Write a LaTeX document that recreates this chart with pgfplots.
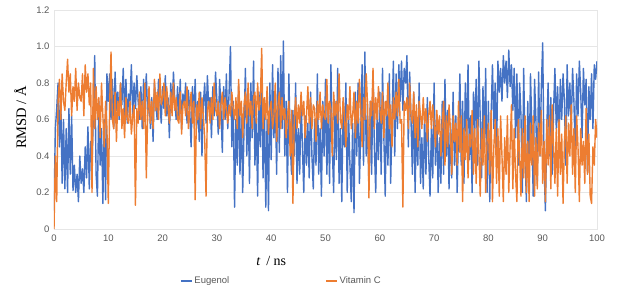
\documentclass[border=0pt]{standalone}
\usepackage{pgfplots}
\pgfplotsset{compat=1.18}
\usepackage{pgfplotstable}
\usepackage{fontspec}
\setmainfont{Liberation Serif}
\newfontfamily\arial{Liberation Sans}
\definecolor{eug}{HTML}{4472C4}
\definecolor{vitc}{HTML}{ED7D31}
\definecolor{tick}{HTML}{595959}
\definecolor{gridc}{HTML}{E6E6E6}
\pgfplotstableread[row sep=\\]{
t e v\\
0 0.10 0.00\\ 0.25 0.55 0.40\\ 0.5 0.66 0.15\\ 0.75 0.80 0.70\\
1 0.45 0.82\\ 1.25 0.72 0.60\\ 1.5 0.25 0.85\\ 1.75 0.60 0.70\\
2 0.22 0.65\\ 2.25 0.55 0.80\\ 2.5 0.20 0.93\\ 2.75 0.66 0.75\\
3 0.30 0.85\\ 3.25 0.62 0.62\\ 3.5 0.21 0.78\\ 3.75 0.35 0.70\\
4 0.20 0.88\\ 4.25 0.30 0.65\\ 4.5 0.15 0.80\\ 4.75 0.40 0.72\\
5 0.25 0.70\\ 5.25 0.33 0.85\\ 5.5 0.20 0.62\\ 5.75 0.45 0.90\\
6 0.28 0.75\\ 6.25 0.56 0.85\\ 6.5 0.22 0.68\\ 6.75 0.48 0.80\\
7 0.35 0.20\\ 7.25 0.62 0.88\\ 7.5 0.95 0.55\\ 7.75 0.30 0.78\\
8 0.18 0.60\\ 8.25 0.70 0.72\\ 8.5 0.35 0.50\\ 8.75 0.55 0.80\\
9 0.14 0.62\\ 9.25 0.60 0.45\\ 9.5 0.16 0.70\\ 9.75 0.85 0.55\\
10 0.70 0.14\\ 10.25 0.85 0.68\\ 10.5 0.60 0.97\\ 10.75 0.82 0.60\\
11 0.55 0.55\\ 11.25 0.86 0.75\\ 11.5 0.65 0.48\\ 11.75 0.75 0.70\\
12 0.60 0.62\\ 12.25 0.80 0.80\\ 12.5 0.68 0.55\\ 12.75 0.88 0.66\\
13 0.62 0.50\\ 13.25 0.82 0.72\\ 13.5 0.58 0.60\\ 13.75 0.74 0.58\\
14 0.70 0.70\\ 14.25 0.90 0.52\\ 14.5 0.62 0.62\\ 14.75 0.80 0.68\\
15 0.66 0.13\\ 15.25 0.84 0.66\\ 15.5 0.70 0.58\\ 15.75 0.60 0.75\\
16 0.78 0.60\\ 16.25 0.55 0.70\\ 16.5 0.82 0.55\\ 16.75 0.68 0.80\\
17 0.85 0.28\\ 17.25 0.62 0.62\\ 17.5 0.75 0.78\\ 17.75 0.55 0.58\\
18 0.72 0.70\\ 18.25 0.48 0.55\\ 18.5 0.80 0.82\\ 18.75 0.68 0.65\\
19 0.60 0.75\\ 19.25 0.82 0.60\\ 19.5 0.70 0.85\\ 19.75 0.58 0.68\\
20 0.78 0.72\\ 20.25 0.66 0.80\\ 20.5 0.84 0.62\\ 20.75 0.62 0.78\\
21 0.72 0.68\\ 21.25 0.50 0.58\\ 21.5 0.80 0.75\\ 21.75 0.65 0.62\\
22 0.86 0.80\\ 22.25 0.70 0.65\\ 22.5 0.60 0.72\\ 22.75 0.78 0.60\\
23 0.62 0.58\\ 23.25 0.82 0.75\\ 23.5 0.55 0.52\\ 23.75 0.74 0.68\\
24 0.68 0.70\\ 24.25 0.80 0.62\\ 24.5 0.58 0.78\\ 24.75 0.76 0.55\\
25 0.65 0.65\\ 25.25 0.45 0.75\\ 25.5 0.78 0.58\\ 25.75 0.60 0.70\\
26 0.82 0.16\\ 26.25 0.55 0.68\\ 26.5 0.70 0.60\\ 26.75 0.48 0.75\\
27 0.75 0.55\\ 27.25 0.40 0.72\\ 27.5 0.68 0.62\\ 27.75 0.80 0.50\\
28 0.58 0.18\\ 28.25 0.84 0.65\\ 28.5 0.66 0.70\\ 28.75 0.72 0.58\\
29 0.50 0.72\\ 29.25 0.78 0.60\\ 29.5 0.62 0.80\\ 29.75 0.86 0.66\\
30 0.70 0.62\\ 30.25 0.52 0.70\\ 30.5 0.82 0.55\\ 30.75 0.66 0.68\\
31 0.42 0.75\\ 31.25 0.78 0.60\\ 31.5 0.60 0.72\\ 31.75 0.85 0.65\\
32 0.55 0.58\\ 32.25 0.75 0.68\\ 32.5 1.00 0.62\\ 32.75 0.45 0.75\\
33 0.70 0.66\\ 33.25 0.12 0.60\\ 33.5 0.60 0.72\\ 33.75 0.35 0.55\\
34 0.78 0.82\\ 34.25 0.30 0.62\\ 34.5 0.65 0.70\\ 34.75 0.20 0.50\\
35 0.55 0.68\\ 35.25 0.88 0.75\\ 35.5 0.40 0.58\\ 35.75 0.70 0.80\\
36 0.25 0.62\\ 36.25 0.80 0.70\\ 36.5 0.50 0.55\\ 36.75 0.92 0.72\\
37 0.35 0.75\\ 37.25 0.62 0.58\\ 37.5 0.18 0.80\\ 37.75 0.75 0.65\\
38 0.45 0.70\\ 38.25 0.85 0.99\\ 38.5 0.28 0.55\\ 38.75 0.70 0.72\\
39 0.12 0.60\\ 39.25 0.60 0.78\\ 39.5 0.10 0.52\\ 39.75 0.80 0.66\\
40 0.38 0.70\\ 40.25 0.90 0.55\\ 40.5 0.50 0.62\\ 40.75 0.75 0.80\\
41 0.30 0.48\\ 41.25 0.88 0.68\\ 41.5 0.42 0.75\\ 41.75 0.95 0.55\\
42 0.55 0.72\\ 42.25 1.03 0.60\\ 42.5 0.40 0.66\\ 42.75 0.70 0.50\\
43 0.20 0.62\\ 43.25 0.85 0.70\\ 43.5 0.48 0.40\\ 43.75 0.30 0.65\\
44 0.65 0.14\\ 44.25 0.40 0.60\\ 44.5 0.80 0.72\\ 44.75 0.25 0.55\\
45 0.55 0.68\\ 45.25 0.30 0.58\\ 45.5 0.72 0.75\\ 45.75 0.45 0.62\\
46 0.20 0.70\\ 46.25 0.62 0.50\\ 46.5 0.35 0.62\\ 46.75 0.58 0.78\\
47 0.28 0.58\\ 47.25 0.75 0.72\\ 47.5 0.40 0.55\\ 47.75 0.22 0.68\\
48 0.60 0.66\\ 48.25 0.35 0.48\\ 48.5 0.85 0.70\\ 48.75 0.30 0.60\\
49 0.55 0.75\\ 49.25 0.18 0.55\\ 49.5 0.70 0.68\\ 49.75 0.40 0.62\\
50 0.82 0.60\\ 50.25 0.30 0.82\\ 50.5 0.65 0.58\\ 50.75 0.25 0.70\\
51 0.90 0.66\\ 51.25 0.45 0.40\\ 51.5 0.20 0.75\\ 51.75 0.70 0.62\\
52 0.38 0.70\\ 52.25 0.88 0.58\\ 52.5 0.25 0.85\\ 52.75 0.55 0.60\\
53 0.15 0.55\\ 53.25 0.70 0.72\\ 53.5 0.45 0.62\\ 53.75 0.80 0.45\\
54 0.20 0.68\\ 54.25 0.62 0.60\\ 54.5 0.35 0.78\\ 54.75 0.15 0.55\\
55 0.58 0.62\\ 55.25 0.09 0.75\\ 55.5 0.75 0.50\\ 55.75 0.40 0.70\\
56 0.80 0.58\\ 56.25 0.25 0.82\\ 56.5 0.55 0.65\\ 56.75 0.90 0.45\\
57 0.35 0.72\\ 57.25 0.97 0.60\\ 57.5 0.40 0.85\\ 57.75 0.62 0.68\\
58 0.22 0.17\\ 58.25 0.70 0.70\\ 58.5 0.30 0.62\\ 58.75 0.85 0.88\\
59 0.45 0.55\\ 59.25 0.20 0.72\\ 59.5 0.62 0.60\\ 59.75 0.38 0.78\\
60 0.75 0.66\\ 60.25 0.30 0.58\\ 60.5 0.88 0.75\\ 60.75 0.50 0.50\\
61 0.18 0.70\\ 61.25 0.70 0.62\\ 61.5 0.35 0.80\\ 61.75 0.85 0.55\\
62 0.25 0.68\\ 62.25 0.60 0.45\\ 62.5 0.92 0.72\\ 62.75 0.40 0.60\\
63 0.85 0.75\\ 63.25 0.55 0.62\\ 63.5 0.90 0.82\\ 63.75 0.70 0.58\\
64 0.92 0.60\\ 64.25 0.65 0.12\\ 64.5 0.88 0.70\\ 64.75 0.80 0.65\\
65 0.95 0.72\\ 65.25 0.45 0.55\\ 65.5 0.86 0.80\\ 65.75 0.60 0.62\\
66 0.30 0.58\\ 66.25 0.75 0.75\\ 66.5 0.20 0.50\\ 66.75 0.58 0.68\\
67 0.35 0.45\\ 67.25 0.80 0.70\\ 67.5 0.25 0.62\\ 67.75 0.50 0.55\\
68 0.22 0.72\\ 68.25 0.62 0.58\\ 68.5 0.30 0.66\\ 68.75 0.72 0.48\\
69 0.40 0.62\\ 69.25 0.18 0.70\\ 69.5 0.55 0.55\\ 69.75 0.28 0.68\\
70 0.80 0.58\\ 70.25 0.35 0.45\\ 70.5 0.62 0.65\\ 70.75 0.20 0.52\\
71 0.50 0.62\\ 71.25 0.25 0.40\\ 71.5 0.70 0.58\\ 71.75 0.30 0.70\\
72 0.82 0.35\\ 72.25 0.40 0.62\\ 72.5 0.65 0.45\\ 72.75 0.22 0.68\\
73 0.58 0.55\\ 73.25 0.28 0.30\\ 73.5 0.75 0.62\\ 73.75 0.35 0.48\\
74 0.62 0.58\\ 74.25 0.20 0.35\\ 74.5 0.55 0.70\\ 74.75 0.85 0.42\\
75 0.35 0.62\\ 75.25 0.70 0.15\\ 75.5 0.25 0.55\\ 75.75 0.80 0.38\\
76 0.48 0.60\\ 76.25 0.90 0.28\\ 76.5 0.38 0.52\\ 76.75 0.62 0.45\\
77 0.20 0.65\\ 77.25 0.75 0.30\\ 77.5 0.55 0.55\\ 77.75 0.82 0.25\\
78 0.35 0.60\\ 78.25 0.92 0.42\\ 78.5 0.60 0.18\\ 78.75 0.28 0.55\\
79 0.78 0.35\\ 79.25 0.45 0.62\\ 79.5 0.88 0.20\\ 79.75 0.20 0.48\\
80 0.70 0.58\\ 80.25 0.15 0.30\\ 80.5 0.62 0.65\\ 80.75 0.90 0.15\\
81 0.55 0.45\\ 81.25 0.80 0.60\\ 81.5 0.40 0.25\\ 81.75 0.92 0.55\\
82 0.75 0.18\\ 82.25 0.88 0.62\\ 82.5 0.70 0.40\\ 82.75 0.95 0.15\\
83 0.80 0.50\\ 83.25 0.92 0.30\\ 83.5 0.72 0.62\\ 83.75 0.98 0.20\\
84 0.78 0.45\\ 84.25 0.90 0.68\\ 84.5 0.65 0.22\\ 84.75 0.88 0.55\\
85 0.50 0.30\\ 85.25 0.85 0.15\\ 85.5 0.35 0.60\\ 85.75 0.80 0.40\\
86 0.62 0.18\\ 86.25 0.20 0.55\\ 86.5 0.88 0.28\\ 86.75 0.40 0.62\\
87 0.15 0.20\\ 87.25 0.70 0.48\\ 87.5 0.30 0.15\\ 87.75 0.85 0.58\\
88 0.55 0.35\\ 88.25 0.18 0.62\\ 88.5 0.82 0.18\\ 88.75 0.60 0.50\\
89 0.25 0.22\\ 89.25 0.86 0.58\\ 89.5 0.40 0.40\\ 89.75 0.78 0.65\\
90 1.02 0.25\\ 90.25 0.35 0.48\\ 90.5 0.10 0.15\\ 90.75 0.55 0.60\\
91 0.80 0.35\\ 91.25 0.40 0.62\\ 91.5 0.72 0.22\\ 91.75 0.30 0.68\\
92 0.65 0.45\\ 92.25 0.88 0.25\\ 92.5 0.55 0.55\\ 92.75 0.78 0.18\\
93 0.45 0.60\\ 93.25 0.82 0.30\\ 93.5 0.60 0.52\\ 93.75 0.85 0.14\\
94 0.70 0.48\\ 94.25 0.35 0.62\\ 94.5 0.90 0.25\\ 94.75 0.62 0.58\\
95 0.80 0.40\\ 95.25 0.55 0.68\\ 95.5 0.88 0.30\\ 95.75 0.70 0.55\\
96 0.40 0.20\\ 96.25 0.85 0.62\\ 96.5 0.62 0.45\\ 96.75 0.92 0.15\\
97 0.75 0.55\\ 97.25 0.50 0.35\\ 97.5 0.88 0.48\\ 97.75 0.68 0.25\\
98 0.82 0.66\\ 98.25 0.30 0.30\\ 98.5 0.78 0.52\\ 98.75 0.60 0.18\\
99 0.85 0.14\\ 99.25 0.55 0.45\\ 99.5 0.90 0.35\\ 99.75 0.82 0.60\\
100 0.92 0.50\\
}\rmsd
\begin{document}
\begin{tikzpicture}
\begin{axis}[
  scale only axis,
  width=543pt, height=219pt,
  xmin=0, xmax=100, ymin=0, ymax=1.2,
  xtick={0,10,...,100},
  ytick={0,0.2,0.4,0.6,0.8,1.0,1.2},
  yticklabels={0,0.2,0.4,0.6,0.8,1.0,1.2},
  major tick length=0pt,
  axis line style={gridc},
  ymajorgrids, major grid style={gridc, line width=0.6pt},
  /pgf/number format/assume math mode=true,
  ticklabel style={font=\arial\fontsize{9.5}{10}\selectfont, text=tick},
  yticklabel style={xshift=-1pt},
  xticklabel style={yshift=-2pt},
  xlabel={\textit{t}\, / ns},
  xlabel style={at={(axis description cs:0.40,-0.145)}, anchor=center, font=\fontsize{14}{16}\selectfont},
  ylabel={RMSD / Å},
  ylabel style={at={(axis description cs:-0.062,0.51)}, anchor=center, rotate=0, font=\fontsize{14.5}{16}\selectfont},
  legend style={at={(axis description cs:0.2265,-0.237)}, anchor=west, draw=none, fill=none,
    font=\arial\fontsize{9.5}{10}\selectfont, text=tick,
    /tikz/every even column/.append style={column sep=94pt}},
  legend columns=2,
  legend image code/.code={\draw[#1, line width=1.3pt] (0pt,0pt) -- (11pt,0pt);},
  clip=true,
]
\addplot[eug, line width=1.4pt, line join=round] table[x=t, y=e] {\rmsd};
\addlegendentry{Eugenol}
\addplot[vitc, line width=1.4pt, line join=round] table[x=t, y=v] {\rmsd};
\addlegendentry{Vitamin C}
\coordinate (bl) at (rel axis cs:0,0);
\coordinate (tr) at (rel axis cs:1,1);
\end{axis}
\pgfresetboundingbox
\path ([shift={(-54pt,-60pt)}]bl) rectangle ([shift={(27pt,10pt)}]tr);
\end{tikzpicture}
\end{document}
